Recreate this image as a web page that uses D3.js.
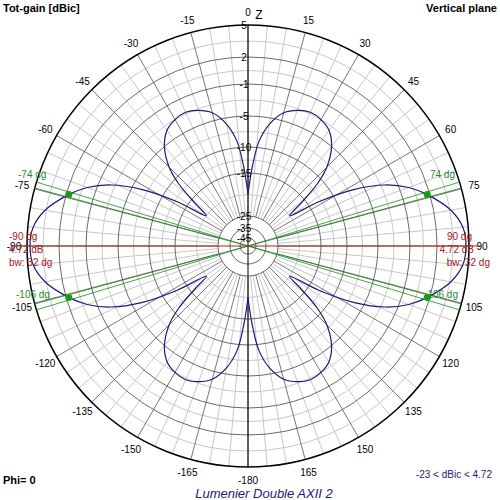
<!DOCTYPE html>
<html><head><meta charset="utf-8">
<script src="https://cdn.jsdelivr.net/npm/d3@7"></script>
<style>body{margin:0;background:#fff}text{font-family:Arial,"Liberation Sans",sans-serif}</style>
</head><body><div id="chart"></div>
<script>
// ring labels (dB) and their radii
const ringDb = [-45, -35, -25, -15, -10, -5, -1, 2, 5];
const ringR = [8, 18, 30, 73, 99, 130, 162, 189, 221];
const minorDb = [-20, -12.5, -7.5, -3, 0.5, 3.5];
const angleTicks = d3.range(-165, 181, 15);
// pattern: angle (deg from Z) -> gain dBic, 0..180 (mirrored for negative side)
const patAngle = [0, 3, 6, 10, 15, 20, 25, 30, 35, 40, 45, 48, 51, 54, 58, 62, 66, 70, 74, 80, 85, 90,
  95, 100, 106, 110, 114, 118, 122, 126, 129, 132, 135, 140, 145, 150, 155, 160, 165, 170, 174, 177, 180];
const patGain = [-20, -14, -9, -6, -4, -3.2, -2.8, -3, -3.6, -5, -8, -11, -16, -20, -13, -6.5, -2.5, 0, 1.72, 3.6, 4.5, 4.72,
  4.5, 3.6, 1.72, 0, -2.5, -6.5, -13, -20, -16, -11, -8, -5, -3.6, -3, -2.8, -3.2, -4, -6, -9, -14, -20];
const beamAngles = [-74, 74, -106, 106];
const beamGain = 1.72;

const W = 500, H = 500, cx = 248, cy = 246;
const svg = d3.select('#chart').append('svg').attr('width', W).attr('height', H);
const g = svg.append('g').attr('transform', `translate(${cx},${cy})`);
const r = d3.scaleLinear().domain(ringDb).range(ringR).clamp(true);
const rad = a => (a - 90) * Math.PI / 180;
const pt = (a, db) => [r(db) * Math.cos(rad(a)), r(db) * Math.sin(rad(a))];
const R = r(5);

// minor circles
g.selectAll('.minc').data(minorDb).enter().append('circle')
  .attr('r', d => r(d)).attr('fill', 'none').attr('stroke', '#c8c8c8');
// radial lines
g.selectAll('.rad').data(d3.range(0, 360, 5)).enter().append('line')
  .attr('x1', d => pt(d, -25)[0]).attr('y1', d => pt(d, -25)[1])
  .attr('x2', d => pt(d, 5)[0]).attr('y2', d => pt(d, 5)[1])
  .attr('stroke', d => d % 15 === 0 ? '#555' : '#c8c8c8').attr('stroke-width', d => d % 15 === 0 ? 0.8 : 1);
// major circles
g.selectAll('.majc').data(ringDb).enter().append('circle')
  .attr('r', d => r(d)).attr('fill', 'none')
  .attr('stroke', d => d === 5 ? '#000' : '#444').attr('stroke-width', d => d === 5 ? 1.5 : 0.8);
// vertical axis
g.append('line').attr('x1', 0).attr('x2', 0).attr('y1', -R).attr('y2', R).attr('stroke', '#000');
// ring labels
g.selectAll('.rl').data(ringDb).enter().append('text')
  .attr('x', -4).attr('y', d => -r(d) + 4).attr('text-anchor', 'middle')
  .attr('font-size', 10).attr('fill', '#000')
  .text(d => d);
// angle labels
g.selectAll('.al').data(angleTicks).enter().append('text')
  .attr('x', d => (R + 13) * Math.cos(rad(d)))
  .attr('y', d => (R + 13) * Math.sin(rad(d)) + 4)
  .attr('text-anchor', 'middle').attr('font-size', 10).text(d => d === 180 ? -180 : d);
g.append('text').attr('x', 11).attr('y', -R - 6).attr('font-size', 12).attr('text-anchor', 'middle').text('Z');

// pattern
const pts = patAngle.map((a, i) => pt(a, patGain[i]))
  .concat(patAngle.slice().reverse().map((a, i) => pt(-a, patGain[patGain.length - 1 - i])));
g.append('path').attr('d', d3.line().curve(d3.curveCatmullRomClosed)(pts))
  .attr('fill', 'none').attr('stroke', '#1a1a7a').attr('stroke-width', 1.2);

// beam lines: two lines slightly apart in angle, from centre out to the rim
beamAngles.forEach(a => {
  [-0.8, 0.8].forEach(off => {
    const ang = rad(a + off);
    g.append('line').attr('x1', 0).attr('y1', 0)
      .attr('x2', R * Math.cos(ang)).attr('y2', R * Math.sin(ang))
      .attr('stroke', '#1a8a1a').attr('stroke-width', 0.8);
  });
  const p = pt(a, beamGain);
  g.append('circle').attr('cx', p[0]).attr('cy', p[1]).attr('r', 3.5).attr('fill', '#1a9a1a');
});
g.append('line').attr('x1', -R - 12).attr('x2', R + 12).attr('y1', 0).attr('y2', 0).attr('stroke', '#b02020');

const grn = '#2a8a2a', red = '#a02020';
const lab = (x, y, t, c, anchor) => svg.append('text').attr('x', x).attr('y', y).attr('font-size', 10)
  .attr('fill', c).attr('text-anchor', anchor || 'start').text(t);
lab(18, 178, '-74 dg', grn); lab(455, 178, '74 dg', grn, 'end');
lab(16, 298, '-106 dg', grn); lab(458, 298, '106 dg', grn, 'end');
lab(9, 240, '-90 dg', red); lab(9, 253, '4.72 dB', red); lab(9, 266, 'bw: 32 dg', red);
lab(472, 240, '90 dg', red, 'end'); lab(474, 253, '4.72 dB', red, 'end'); lab(490, 266, 'bw: 32 dg', red, 'end');

svg.append('text').attr('x', 3).attr('y', 12).attr('font-size', 11).attr('font-weight', 'bold').text('Tot-gain [dBic]');
svg.append('text').attr('x', 497).attr('y', 12).attr('font-size', 11).attr('font-weight', 'bold').attr('text-anchor', 'end').text('Vertical plane');
svg.append('text').attr('x', 3).attr('y', 484).attr('font-size', 11).attr('font-weight', 'bold').text('Phi= 0');
svg.append('text').attr('x', 492).attr('y', 478).attr('font-size', 10).attr('fill', '#1a1a7a').attr('text-anchor', 'end').text('-23 < dBic < 4.72');
svg.append('text').attr('x', 264).attr('y', 498).attr('font-size', 13).attr('font-style', 'italic').attr('fill', '#1a1a7a').attr('text-anchor', 'middle').text('Lumenier Double AXII 2');
</script></body></html>
